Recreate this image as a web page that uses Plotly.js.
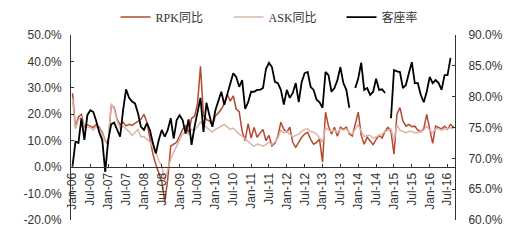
<!DOCTYPE html>
<html>
<head>
<meta charset="utf-8">
<script src="https://cdn.plot.ly/plotly-3.0.1.min.js"></script>
<style>html,body{margin:0;padding:0;background:#fff;}#chart{width:520px;height:242px;}</style>
</head>
<body>
<div id="chart"></div>
<script>
// Months Jan-06 .. Sep-16
const monthNames = ["Jan","Feb","Mar","Apr","May","Jun","Jul","Aug","Sep","Oct","Nov","Dec"];
const years = ["06","07","08","09","10","11","12","13","14","15","16"];
const categories = [];
years.forEach(y => monthNames.forEach(m => categories.push(m + "-" + y)));
categories.length = 129;

const tickLabels = ["Jan-06","Jul-06","Jan-07","Jul-07","Jan-08","Jul-08","Jan-09","Jul-09","Jan-10","Jul-10","Jan-11","Jul-11","Jan-12","Jul-12","Jan-13","Jul-13","Jan-14","Jul-14","Jan-15","Jul-15","Jan-16","Jul-16"];

// RPK同比 (%)
const rpk = [
 28.0,15.0,19.0,20.0,15.0,16.0,15.5,15.0,16.2,15.0,13.2,10.0,
 8.7,23.5,22.6,18.1,16.0,17.0,15.6,16.2,15.8,16.5,17.5,18.1,
 20.0,17.0,11.0,5.0,1.0,-2.0,-5.5,-13.2,-4.5,8.0,8.7,9.4,
 11.8,14.3,15.6,13.0,18.5,19.2,24.0,38.2,19.5,18.0,17.5,15.6,
 19.4,20.5,22.0,24.0,27.5,25.0,27.0,22.0,21.0,13.5,10.0,16.5,
 11.0,15.0,11.3,13.0,14.3,10.0,12.0,8.0,9.0,11.7,17.0,14.3,
 13.2,15.1,9.4,7.5,9.4,11.3,12.5,13.2,10.5,8.7,9.4,10.6,
 1.9,20.8,15.5,12.5,15.1,11.7,15.1,14.3,15.1,12.5,11.8,16.5,
 20.8,12.0,8.7,11.3,10.0,8.5,10.5,12.0,11.0,13.5,15.1,13.5,
 4.9,20.0,22.5,17.5,15.5,16.2,15.3,15.5,14.0,13.4,14.5,20.0,
 14.5,9.0,15.5,15.1,14.5,15.5,14.3,16.2,15.1
];

// ASK同比 (%)
const ask = [
 26.0,14.5,18.0,19.0,14.5,15.0,15.0,14.0,15.5,14.5,12.5,10.0,
 9.5,24.0,22.0,17.5,14.5,15.5,14.5,13.5,12.0,13.0,14.3,11.5,
 11.5,10.6,9.5,7.5,5.7,2.5,0.5,-5.0,-1.0,3.0,5.7,8.0,
 10.6,12.5,13.2,12.5,14.3,14.0,15.5,17.0,16.0,15.0,14.0,13.2,
 14.3,14.8,15.5,16.2,15.1,14.3,14.8,13.6,12.5,11.7,10.6,9.5,
 8.7,7.9,8.7,8.5,7.9,8.5,9.5,8.5,9.5,11.0,14.0,13.0,
 13.5,12.5,11.5,12.0,12.5,13.5,14.3,14.5,13.5,13.2,12.5,11.0,
 9.5,15.0,14.0,13.5,14.0,13.0,14.5,14.0,14.5,13.0,12.5,14.5,
 16.0,13.5,11.5,12.0,12.0,11.0,11.5,12.0,12.5,13.5,14.0,14.5,
 10.0,16.0,14.0,13.5,13.0,13.5,13.5,13.0,13.0,13.5,14.0,15.5,
 14.0,13.0,14.5,14.5,14.0,14.5,14.5,15.0,14.5
];

// 客座率 (%)
const loadFactor = [
 68.7,72.7,72.5,76.5,73.0,77.0,77.8,77.5,76.0,74.2,73.0,67.8,
 73.0,75.5,75.8,74.6,73.5,77.8,81.2,79.8,79.2,78.9,77.3,75.1,
 74.6,75.7,74.6,72.5,70.8,73.0,74.6,73.5,74.6,76.5,73.2,76.2,
 77.0,76.2,74.0,76.3,72.2,75.1,77.5,79.8,74.3,79.0,77.0,75.1,
 77.8,79.5,80.8,78.7,80.5,81.9,83.8,83.2,81.6,82.7,78.0,79.1,
 80.8,80.8,81.1,81.1,81.4,84.5,85.5,84.8,82.4,82.2,81.1,78.7,
 81.1,79.8,80.6,82.2,79.1,82.4,83.8,84.0,81.6,81.1,79.5,79.1,
 78.2,84.0,83.5,80.8,81.4,82.7,84.8,82.2,81.1,78.2,null,81.4,
 83.0,85.5,81.1,81.4,80.3,80.8,82.9,81.1,81.2,80.6,null,76.5,
 84.3,84.1,84.0,81.4,81.9,83.8,85.6,82.2,82.2,80.3,79.1,80.8,
 83.2,82.2,82.7,82.2,81.1,83.5,83.5,86.3,null
];

const leftTicks = [-20,-10,0,10,20,30,40,50];
const rightTicks = [60,65,70,75,80,85,90];

const tickFont = {family: "Liberation Sans, Arial, sans-serif", size: 12, color: "#333"};

const traces = [
  {x: categories, y: rpk, name: "RPK同比", type: "scatter", mode: "lines",
   line: {color: "#b5482f", width: 1.5}, yaxis: "y"},
  {x: categories, y: ask, name: "ASK同比", type: "scatter", mode: "lines",
   line: {color: "#dcb4a8", width: 1.5}, yaxis: "y"},
  {x: categories, y: loadFactor, name: "客座率", type: "scatter", mode: "lines",
   line: {color: "#000000", width: 1.8}, yaxis: "y2", connectgaps: false}
];

const layout = {
  width: 520, height: 242,
  margin: {l: 71, r: 65, t: 35, b: 22, pad: 0, autoexpand: false},
  paper_bgcolor: "#fff", plot_bgcolor: "#fff",
  showlegend: true,
  legend: {orientation: "h", x: 0.116, xanchor: "left", y: 1.097, yanchor: "middle",
    font: {family: "Liberation Serif, Noto Sans CJK SC, serif", size: 12, color: "#333"},
    entrywidth: 68, entrywidthmode: "pixels", itemwidth: 30, tracegroupgap: 0},
  xaxis: {
    type: "category", range: [-0.5, 128.5],
    anchor: "free", position: 0.2857,
    showline: true, linecolor: "#333", linewidth: 1,
    showgrid: false, zeroline: false,
    tickmode: "array", tickvals: tickLabels, ticktext: tickLabels,
    ticks: "inside", ticklen: 3, tickcolor: "#333",
    tickangle: -90, tickfont: tickFont, automargin: false
  },
  yaxis: {
    range: [-20, 50], tickvals: leftTicks,
    ticktext: leftTicks.map(v => v.toFixed(1) + "%"),
    showline: true, linecolor: "#333", linewidth: 1,
    showgrid: false, zeroline: false,
    ticks: "inside", ticklen: 3, tickcolor: "#333",
    tickfont: tickFont, ticklabelstandoff: 6, automargin: false
  },
  yaxis2: {
    overlaying: "y", side: "right", range: [60, 90], tickvals: rightTicks,
    ticktext: rightTicks.map(v => v.toFixed(1) + "%"),
    showline: true, linecolor: "#333", linewidth: 1,
    showgrid: false, zeroline: false,
    ticks: "inside", ticklen: 3, tickcolor: "#333",
    tickfont: tickFont, ticklabelstandoff: 10, automargin: false
  }
};

Plotly.newPlot("chart", traces, layout, {staticPlot: true, displayModeBar: false});
</script>
</body>
</html>
